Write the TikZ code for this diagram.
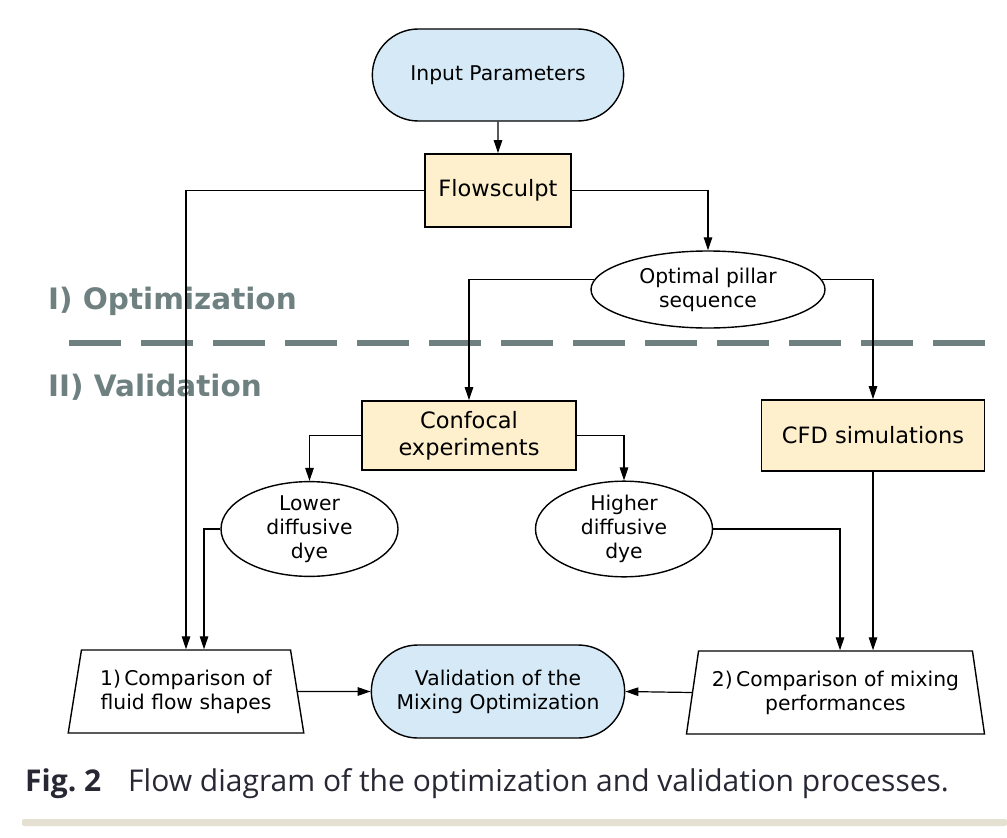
\documentclass[tikz,border=0pt]{standalone}
\usepackage{fontspec}
\setmainfont{DejaVu Sans}
\newfontfamily\captionfont{Open Sans}
\usetikzlibrary{shapes,arrows.meta,calc}

\definecolor{startblue}{RGB}{213,234,246}
\definecolor{procyellow}{RGB}{254,239,205}
\definecolor{phasegray}{RGB}{110,128,128}
\definecolor{captionink}{RGB}{40,40,52}
\definecolor{rulebeige}{RGB}{229,225,210}

\begin{document}
\begin{tikzpicture}[
    x=1pt, y=-1pt,
    terminal/.style={rounded rectangle, draw=black, line width=1.4pt, fill=startblue, minimum width=258pt, minimum height=92pt, font=\fontsize{20.3}{24}\selectfont, align=center},
    process/.style={rectangle, draw=black, line width=1.8pt, fill=procyellow, font=\fontsize{22.5}{27}\selectfont, align=center},
    result/.style={ellipse, draw=black, line width=1.4pt, fill=white, inner sep=0pt, font=\fontsize{20.3}{24}\selectfont, align=center},
    compare/.style={trapezium, trapezium left angle=76, trapezium right angle=76, trapezium stretches=true, draw=black, line width=1.4pt, minimum height=83pt, inner sep=0pt, font=\fontsize{20.3}{24}\selectfont, align=center},
    arrow/.style={-{Triangle[length=13pt,width=8.5pt]}, line width=1.2pt},
    phase/.style={anchor=base west, inner sep=0pt, text=phasegray, font=\fontsize{29.5}{34}\selectfont\bfseries},
    divider/.style={draw=phasegray, line width=6.5pt, dash pattern=on 52pt off 20pt}
]
\useasboundingbox (0,0) rectangle (1007,838);

% Phases
\node[phase] (optlabel) at (48,309) {I) Optimization};
\node[phase] (vallabel) at (48,396) {II) Validation};
\draw[divider] (69,343) -- (985,343);

% Optimization
\node[terminal] (inp) at (498,75) {Input Parameters};
\node[process, minimum width=146pt, minimum height=73pt] (flow) at (498,190.5) {Flowsculpt};
\node[result, minimum width=234pt, minimum height=77pt] (opt) at (708,289.5) {Optimal pillar\\sequence};

% Validation
\node[process, minimum width=214pt, minimum height=69pt] (conf) at (469,435.5) {Confocal\\experiments};
\node[process, minimum width=223pt, minimum height=71pt] (cfd) at (873,435.5) {CFD simulations};
\node[result, minimum width=177pt, minimum height=82pt] (low) at (309.5,529) {Lower\\diffusive\\dye};
\node[result, minimum width=177pt, minimum height=82pt] (high) at (624,529) {Higher\\diffusive\\dye};
\node[compare, minimum width=236pt] (cmp1) at (186,691.5) {1)\,Comparison of\\fluid flow shapes};
\node[terminal, minimum width=260pt, minimum height=93pt] (val) at (498,691.5) {Validation of the\\Mixing Optimization};
\node[compare, minimum width=299pt] (cmp2) at (835.5,692.5) {2)\,Comparison of mixing\\performances};

% Connectors
\draw[arrow] (inp) -- (flow);
\draw[arrow] (flow.west) -| (cmp1.north);
\draw[arrow] (flow.east) -| (opt.north);
\draw[arrow] (opt.175) -| (conf.north);
\draw[arrow] (opt.5) -| (cfd.north);
\draw[arrow] (conf.west) -| (low.north);
\draw[arrow] (conf.east) -| (high.north);
\draw[arrow] (low.west) -| ($(cmp1.north)+(18,0)$);
\draw[arrow] (high.east) -| ($(cmp2.north)+(4.5,0)$);
\draw[arrow] (cfd.south) -- (cfd.south |- cmp2.north);
\draw[arrow] (cmp1.east) -- (val.west);
\draw[arrow] (cmp2.west) -- (val.east);

% Caption
\node[anchor=base west, inner sep=0pt, text=captionink, font=\captionfont\fontsize{30}{34}\selectfont] (caption) at (25,791) {\textbf{Fig.~2}\hspace{27pt}Flow diagram of the optimization and validation processes.};
\fill[rulebeige, rounded corners=2pt] (22,819) rectangle (1007,826);

\end{tikzpicture}
\end{document}
